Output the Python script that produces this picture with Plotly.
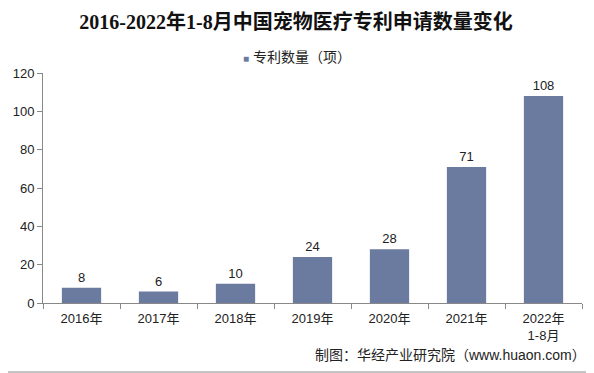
import plotly.graph_objects as go

categories = ["2016年", "2017年", "2018年", "2019年", "2020年", "2021年", "2022年<br>1-8月"]
values = [8, 6, 10, 24, 28, 71, 108]
series_name = "专利数量（项）"
y_ticks = [0, 20, 40, 60, 80, 100, 120]

bar_color = "#6A7B9F"
font_fam = "Liberation Sans, Arial, Noto Sans CJK SC, sans-serif"

# page body has an 8px default margin -> figure is drawn 8px right/down
W, H = 586, 365
L, R, T, B = 35, 12, 65, 70
PW, PH = W - L - R, H - T - B

def px(x):  # figure pixel x -> paper x
    return (x - L) / PW

def py(y):  # figure pixel y -> paper y
    return 1 - (y - T) / PH

fig = go.Figure()
fig.add_trace(go.Bar(
    x=categories, y=values, name=series_name, showlegend=False,
    marker=dict(color=bar_color, line=dict(width=0)),
    text=[str(v) for v in values], textposition="outside",
    textfont=dict(size=13, color="#222", family=font_fam),
    cliponaxis=False,
))

fig.update_layout(
    width=W, height=H,
    margin=dict(l=L, r=R, t=T, b=B),
    paper_bgcolor="white", plot_bgcolor="white",
    bargap=0.49,
    title=dict(text="<b>2016-2022年1-8月中国宠物医疗专利申请数量变化</b>",
               x=288 / W, xanchor="center", y=1 - 14 / H, yanchor="middle",
               font=dict(size=20, color="#111", family="Liberation Serif, Noto Sans CJK SC, serif")),
    showlegend=False,
    font=dict(family=font_fam, size=13, color="#222"),
)
fig.add_annotation(
    text=f"<span style='color:{bar_color};font-size:10px'>■</span> {series_name}",
    xref="paper", yref="paper", x=px(289), xanchor="center",
    y=py(49), yanchor="middle", showarrow=False,
    font=dict(size=14, color="#222", family=font_fam))
fig.update_xaxes(
    showline=True, linecolor="#888", linewidth=1, automargin=False,
    ticks="outside", tickson="boundaries", ticklen=5, tickcolor="#888",
    ticklabelstandoff=3,
    tickfont=dict(size=13, color="#222"), showgrid=False,
)
fig.update_yaxes(
    range=[0, 120], tickvals=y_ticks, automargin=False,
    showline=True, linecolor="#888", linewidth=1,
    ticks="outside", ticklen=5, tickcolor="#888",
    tickfont=dict(size=13, color="#222"), showgrid=False, zeroline=False,
)
# outer frame (right and bottom edges visible in the viewport)
fig.add_shape(type="line", xref="paper", yref="paper",
              x0=px(585), x1=px(585), y0=py(364), y1=py(-8),
              line=dict(color="#888", width=1))
fig.add_shape(type="line", xref="paper", yref="paper",
              x0=px(-8), x1=px(585), y0=py(364), y1=py(364),
              line=dict(color="#888", width=1))
fig.add_annotation(text="制图：华经产业研究院（www.huaon.com）", xref="paper", yref="paper",
                   x=px(580), xanchor="right", y=py(347), yanchor="middle",
                   showarrow=False, font=dict(size=14, color="#222", family=font_fam))

fig.write_html("out.html")
